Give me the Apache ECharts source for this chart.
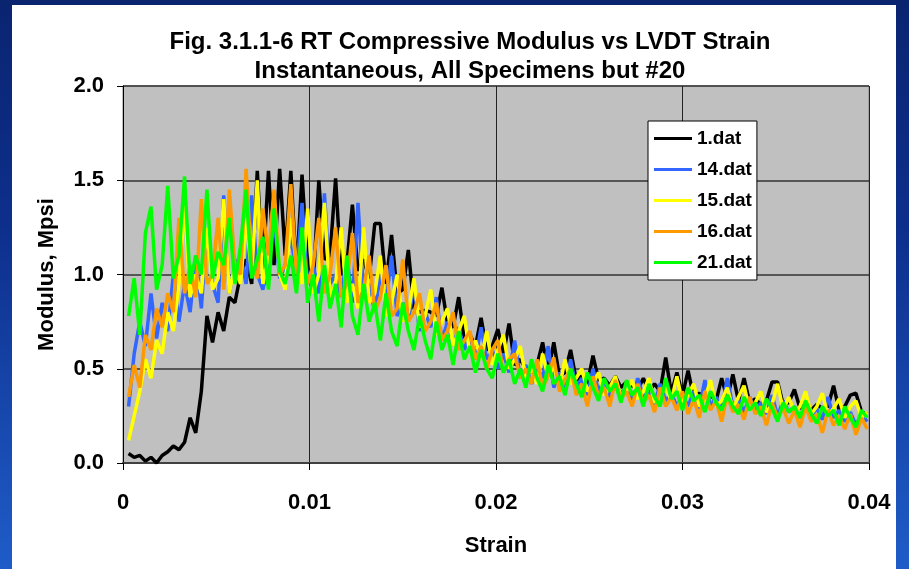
<!DOCTYPE html>
<html>
<head>
<meta charset="utf-8">
<script src="https://cdn.jsdelivr.net/npm/echarts@6/dist/echarts.min.js"></script>
<style>
html,body{margin:0;padding:0;width:909px;height:569px;overflow:hidden;}
body{background:linear-gradient(180deg,#0a2470 0%,#0d2f8c 40%,#1f5cc8 100%);position:relative;}
#panel{position:absolute;left:12px;top:5px;width:884px;height:570px;background:#ffffff;}
#chart{position:absolute;left:0;top:0;width:909px;height:569px;}
</style>
</head>
<body>
<div id="panel"></div>
<div id="chart"></div>
<script>
const titleLines = ["Fig. 3.1.1-6 RT Compressive Modulus vs LVDT Strain", "Instantaneous, All Specimens but #20"];
const xAxisName = "Strain";
const yAxisName = "Modulus, Mpsi";
const seriesNames = ["1.dat", "14.dat", "15.dat", "16.dat", "21.dat"];
const seriesColors = ["#000000", "#3366FF", "#FFFF00", "#FF9900", "#00FF00"];

const strain = [
0.0003,0.0006,0.0009,0.0012,0.0015,0.0018,0.0021,0.0024,0.0027,0.0030,
0.0033,0.0036,0.0039,0.0042,0.0045,0.0048,0.0051,0.0054,0.0057,0.0060,
0.0063,0.0066,0.0069,0.0072,0.0075,0.0078,0.0081,0.0084,0.0087,0.0090,
0.0093,0.0096,0.0099,0.0102,0.0105,0.0108,0.0111,0.0114,0.0117,0.0120,
0.0123,0.0126,0.0129,0.0132,0.0135,0.0138,0.0141,0.0144,0.0147,0.0150,
0.0153,0.0156,0.0159,0.0162,0.0165,0.0168,0.0171,0.0174,0.0177,0.0180,
0.0183,0.0186,0.0189,0.0192,0.0195,0.0198,0.0201,0.0204,0.0207,0.0210,
0.0213,0.0216,0.0219,0.0222,0.0225,0.0228,0.0231,0.0234,0.0237,0.0240,
0.0243,0.0246,0.0249,0.0252,0.0255,0.0258,0.0261,0.0264,0.0267,0.0270,
0.0273,0.0276,0.0279,0.0282,0.0285,0.0288,0.0291,0.0294,0.0297,0.0300,
0.0303,0.0306,0.0309,0.0312,0.0315,0.0318,0.0321,0.0324,0.0327,0.0330,
0.0333,0.0336,0.0339,0.0342,0.0345,0.0348,0.0351,0.0354,0.0357,0.0360,
0.0363,0.0366,0.0369,0.0372,0.0375,0.0378,0.0381,0.0384,0.0387,0.0390,
0.0393,0.0396,0.0399];

const mod1 = [
0.05,0.03,0.04,0.01,0.03,0.00,0.04,0.06,0.09,0.07,
0.11,0.24,0.16,0.38,0.78,0.64,0.80,0.70,0.88,0.85,
1.00,1.08,0.95,1.55,1.02,1.55,1.05,1.56,1.10,1.55,
1.00,1.53,1.05,0.95,1.50,1.08,1.10,1.51,1.00,1.05,
1.37,1.02,1.08,0.98,1.27,1.27,0.95,1.21,0.90,0.92,
1.13,0.82,0.80,0.81,0.80,0.78,0.93,0.74,0.72,0.88,
0.66,0.68,0.62,0.77,0.60,0.62,0.71,0.58,0.74,0.52,
0.55,0.50,0.48,0.52,0.64,0.48,0.64,0.46,0.48,0.60,
0.44,0.46,0.42,0.57,0.44,0.45,0.41,0.46,0.40,0.43,
0.41,0.39,0.45,0.38,0.42,0.38,0.56,0.37,0.48,0.36,
0.49,0.35,0.37,0.34,0.36,0.33,0.45,0.34,0.47,0.33,
0.45,0.32,0.34,0.31,0.33,0.43,0.43,0.31,0.32,0.39,
0.29,0.31,0.28,0.31,0.29,0.30,0.41,0.28,0.30,0.36,
0.37,0.27,0.26];

const mod14 = [
0.30,0.58,0.75,0.62,0.90,0.66,0.85,0.70,1.00,0.75,
0.95,0.80,1.10,0.82,1.25,0.95,0.85,1.42,0.90,1.05,
1.10,0.95,1.42,1.00,0.92,1.05,1.30,0.98,1.05,1.20,
1.00,1.38,0.95,1.05,0.90,1.43,0.95,1.00,0.88,1.10,
0.85,1.38,0.90,0.95,0.80,1.00,0.85,1.10,0.78,0.85,
0.75,0.95,0.70,0.80,0.72,0.88,0.65,0.75,0.62,0.72,
0.60,0.68,0.55,0.72,0.55,0.60,0.50,0.58,0.48,0.65,
0.45,0.52,0.42,0.50,0.45,0.62,0.40,0.48,0.38,0.55,
0.40,0.45,0.36,0.50,0.38,0.44,0.35,0.42,0.37,0.40,
0.33,0.45,0.35,0.38,0.31,0.42,0.33,0.37,0.30,0.36,
0.30,0.38,0.29,0.44,0.30,0.35,0.28,0.45,0.30,0.34,
0.27,0.35,0.28,0.32,0.26,0.36,0.25,0.33,0.27,0.30,
0.24,0.31,0.25,0.29,0.23,0.35,0.24,0.28,0.22,0.27,
0.20,0.26,0.22];

const mod15 = [
0.12,0.25,0.38,0.55,0.45,0.65,0.58,0.80,0.70,0.95,
1.38,0.88,1.00,0.90,1.25,0.92,0.98,1.40,0.90,1.05,
0.95,1.30,1.00,1.50,0.95,1.10,1.42,1.00,0.92,1.30,
1.05,0.95,1.35,0.90,1.00,1.38,0.88,0.95,1.25,0.85,
0.95,0.82,1.25,0.85,0.90,1.10,0.78,0.85,1.00,0.75,
0.80,0.98,0.72,0.78,0.92,0.68,0.75,0.82,0.62,0.70,
0.78,0.58,0.65,0.55,0.70,0.52,0.60,0.68,0.50,0.55,
0.62,0.45,0.50,0.42,0.58,0.45,0.52,0.40,0.55,0.42,
0.45,0.50,0.38,0.42,0.48,0.36,0.40,0.46,0.35,0.38,
0.44,0.34,0.38,0.45,0.32,0.36,0.40,0.33,0.46,0.32,
0.36,0.42,0.30,0.34,0.44,0.30,0.33,0.40,0.29,0.35,
0.41,0.28,0.32,0.38,0.27,0.31,0.42,0.28,0.35,0.27,
0.30,0.38,0.26,0.30,0.37,0.25,0.29,0.34,0.24,0.30,
0.33,0.24,0.27];

const mod16 = [
0.35,0.52,0.40,0.68,0.60,0.82,0.72,0.90,0.80,1.30,
0.90,1.05,0.88,1.40,0.95,1.00,1.30,0.92,1.45,1.05,
1.00,1.56,1.05,0.98,1.35,1.10,1.45,1.00,1.05,1.48,
1.00,1.20,0.95,1.05,1.30,0.90,1.00,1.25,0.88,0.95,
1.22,0.85,0.92,1.10,0.80,0.88,1.05,0.78,0.82,1.08,
0.75,0.80,0.90,0.70,0.75,0.85,0.65,0.70,0.80,0.60,
0.65,0.70,0.55,0.62,0.50,0.60,0.65,0.48,0.55,0.58,
0.45,0.50,0.42,0.55,0.40,0.46,0.56,0.38,0.44,0.50,
0.36,0.42,0.30,0.46,0.35,0.40,0.30,0.44,0.34,0.38,
0.30,0.42,0.32,0.36,0.27,0.40,0.30,0.35,0.28,0.38,
0.26,0.34,0.24,0.38,0.28,0.33,0.22,0.36,0.27,0.31,
0.23,0.35,0.26,0.30,0.20,0.32,0.24,0.29,0.21,0.28,
0.19,0.30,0.22,0.26,0.16,0.28,0.20,0.25,0.18,0.26,
0.15,0.24,0.18];

const mod21 = [
0.78,0.98,0.68,1.22,1.36,0.92,1.05,1.47,0.98,1.10,
1.52,0.95,1.10,1.00,1.45,0.98,1.12,1.05,1.30,0.95,
1.15,1.45,0.98,1.08,1.20,0.92,1.35,1.02,0.95,1.10,
0.90,1.25,0.85,1.00,0.75,1.05,0.82,0.95,0.72,1.10,
0.78,0.68,0.95,0.75,0.85,0.65,0.90,0.70,0.62,0.85,
0.70,0.60,0.78,0.65,0.55,0.75,0.60,0.68,0.52,0.70,
0.55,0.62,0.48,0.60,0.50,0.45,0.58,0.48,0.55,0.42,
0.50,0.40,0.55,0.45,0.38,0.52,0.42,0.46,0.36,0.50,
0.42,0.35,0.48,0.40,0.33,0.45,0.38,0.42,0.32,0.44,
0.36,0.40,0.30,0.42,0.35,0.30,0.45,0.34,0.38,0.28,
0.40,0.33,0.36,0.27,0.38,0.32,0.28,0.36,0.30,0.26,
0.35,0.28,0.32,0.25,0.34,0.29,0.22,0.32,0.27,0.30,
0.24,0.33,0.26,0.21,0.30,0.25,0.28,0.20,0.30,0.24,
0.19,0.28,0.24];

const moduli = [mod1, mod14, mod15, mod16, mod21];

const FONT = '"Liberation Sans", Arial, sans-serif';
const chart = echarts.init(document.getElementById('chart'), null, {renderer: 'canvas'});
const series = seriesNames.map((name, k) => ({
  name: name,
  type: 'line',
  data: strain.map((x, i) => [x, moduli[k][i]]),
  showSymbol: false,
  symbol: 'none',
  lineStyle: {color: seriesColors[k], width: 3.5},
  itemStyle: {color: seriesColors[k]},
  animation: false,
  z: 2 + k
}));

chart.setOption({
  animation: false,
  backgroundColor: 'transparent',
  title: {
    text: titleLines.join('\n'),
    left: 470, top: 28, textAlign: 'center', padding: 0,
    textStyle: {fontFamily: FONT, fontWeight: 'bold', fontSize: 24, lineHeight: 29, color: '#000'}
  },
  legend: {
    orient: 'vertical',
    left: 648, top: 121,
    backgroundColor: '#ffffff',
    borderColor: '#000000', borderWidth: 1, borderRadius: 0,
    padding: [8, 5, 8, 6],
    itemGap: 12,
    itemWidth: 38, itemHeight: 3,
    icon: 'rect',
    textStyle: {fontFamily: FONT, fontWeight: 'bold', fontSize: 19, color: '#000'},
    data: seriesNames
  },
  grid: {
    left: 123, top: 86, width: 746, height: 377,
    show: true, backgroundColor: '#C0C0C0', borderColor: '#808080', borderWidth: 1
  },
  xAxis: {
    type: 'value', min: 0, max: 0.04, interval: 0.01,
    name: xAxisName, nameLocation: 'middle', nameGap: 72,
    nameTextStyle: {fontFamily: FONT, fontWeight: 'bold', fontSize: 22, color: '#000'},
    axisLine: {show: true, onZero: false, lineStyle: {color: '#404040', width: 2}},
    axisTick: {show: true, length: 7, lineStyle: {color: '#000', width: 1}},
    axisLabel: {fontFamily: FONT, fontWeight: 'bold', fontSize: 22, color: '#000', margin: 29,
      formatter: v => (v === 0 ? '0' : String(+v.toFixed(2)))},
    splitLine: {show: true, lineStyle: {color: '#222', width: 1}}
  },
  yAxis: {
    type: 'value', min: 0, max: 2, interval: 0.5,
    name: yAxisName, nameLocation: 'middle', nameGap: 65, nameRotate: 90,
    nameTextStyle: {fontFamily: FONT, fontWeight: 'bold', fontSize: 22, color: '#000'},
    axisLine: {show: true, lineStyle: {color: '#000', width: 1}},
    axisTick: {show: true, length: 6, lineStyle: {color: '#000', width: 1}},
    axisLabel: {fontFamily: FONT, fontWeight: 'bold', fontSize: 22, color: '#000', margin: 19,
      formatter: v => v.toFixed(1)},
    splitLine: {show: true, lineStyle: {color: '#333', width: 1.5}}
  },
  series: series
});
</script>
</body>
</html>
